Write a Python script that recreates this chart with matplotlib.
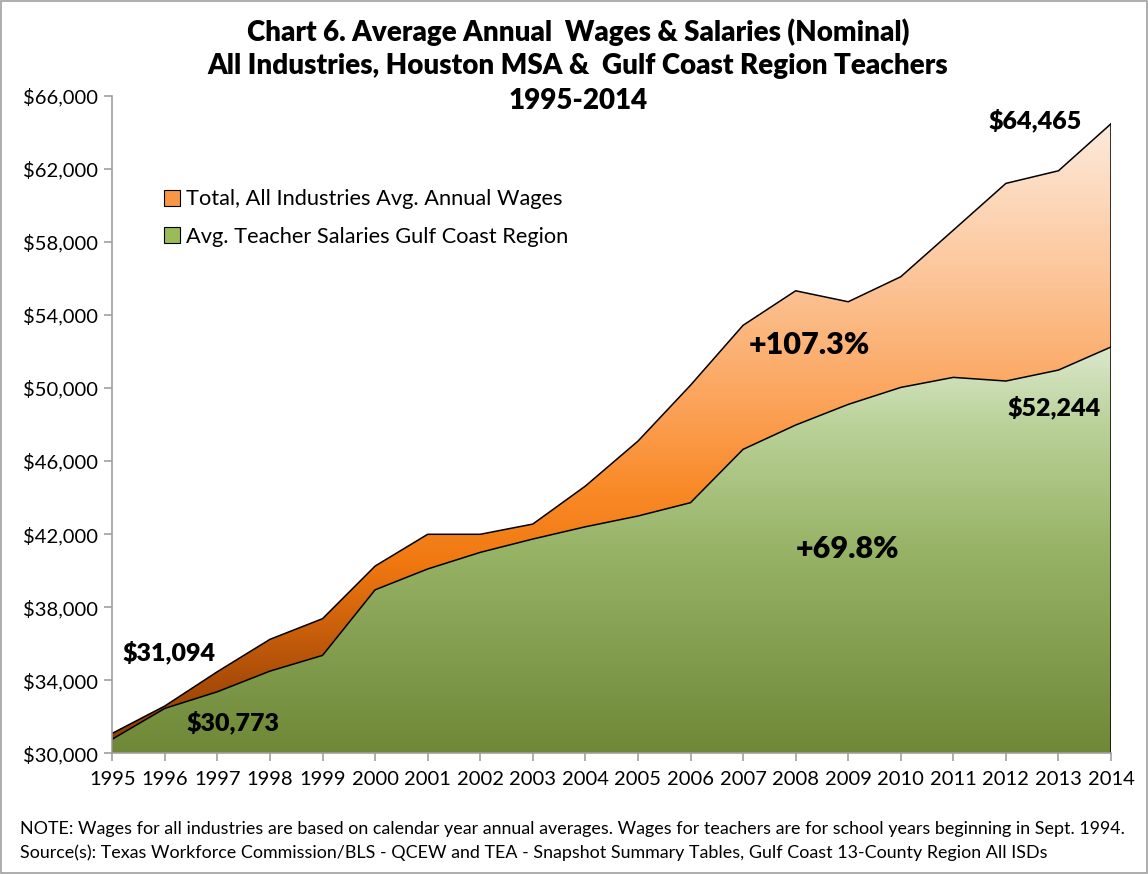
import numpy as np
import matplotlib
matplotlib.use('Agg')
import matplotlib.pyplot as plt
from matplotlib.colors import LinearSegmentedColormap
from matplotlib.patches import Polygon, Rectangle
from matplotlib.ticker import FuncFormatter

plt.rcParams['font.family'] = ['Lato', 'DejaVu Sans']

# data
years = list(range(1995, 2015))
total_wages = [31094, 32590, 34470, 36240, 37370, 40250, 41990, 41990, 42550, 44630,
               47090, 50150, 53430, 55320, 54720, 56090, 58640, 61200, 61890, 64465]
teacher_sal = [30773, 32460, 33370, 34500, 35360, 38950, 40090, 41000, 41730, 42400,
               42990, 43720, 46640, 47970, 49100, 50030, 50580, 50380, 50980, 52244]
legend_labels = ['Total, All Industries Avg. Annual Wages',
                 'Avg. Teacher Salaries Gulf Coast Region']

ymin, ymax = 30000, 66000
x = np.array(years)

fig = plt.figure(figsize=(11.48, 8.74), dpi=100)
ax = fig.add_axes([0.0978, 0.1381, 0.870, 0.7524])


def grad_area(ax, x, lo, hi, stops, top):
    # polygon between lo and hi, filled with a vertical gradient
    verts = np.vstack([np.column_stack([x, hi]), np.column_stack([x[::-1], lo[::-1]])])
    poly = Polygon(verts, closed=True, facecolor='none', edgecolor='none')
    ax.add_patch(poly)
    cmap = LinearSegmentedColormap.from_list('g', stops)
    img = ax.imshow(np.linspace(0, 1, 256).reshape(-1, 1), cmap=cmap, aspect='auto',
                    extent=[x[0], x[-1], ymin, top], origin='lower', zorder=1)
    img.set_clip_path(poly)
    return poly


orange_stops = [(0.0, '#8a3b05'), (0.12, '#ad4e08'), (0.30, '#f07810'),
                (0.42, '#f98a28'), (0.55, '#fba258'), (0.75, '#fcc497'), (1.0, '#fdeadb')]
green_stops = [(0.0, '#6e8837'), (0.5, '#97b366'), (0.8, '#b9d197'), (1.0, '#dbe8cd')]

t = np.array(total_wages, dtype=float)
s = np.array(teacher_sal, dtype=float)
base = np.full_like(s, ymin)

grad_area(ax, x, base, t, orange_stops, max(total_wages))
grad_area(ax, x, base, s, green_stops, max(teacher_sal))

# outlines
ax.plot(x, t, color='black', lw=1.1, zorder=3)
ax.plot(x, s, color='black', lw=1.1, zorder=3)
ax.plot([x[-1], x[-1]], [ymin, t[-1]], color='black', lw=1.1, zorder=3)
ax.plot([x[0], x[0]], [ymin, t[0]], color='black', lw=1.1, zorder=3)

ax.set_xlim(x[0], x[-1])
ax.set_ylim(ymin, ymax)
ax.set_yticks(np.arange(ymin, ymax + 1, 4000))
ax.yaxis.set_major_formatter(FuncFormatter(lambda v, p: '${:,.0f}'.format(v)))
ax.set_xticks(years)
for side in ['top', 'right']:
    ax.spines[side].set_visible(False)
for side in ['left', 'bottom']:
    ax.spines[side].set_color('#a0a0a0')
    ax.spines[side].set_linewidth(1.2)
    ax.spines[side].set_zorder(4)
ax.tick_params(axis='both', colors='#a0a0a0', length=6, width=1.2, labelcolor='black', labelsize=14.5)
ax.tick_params(axis='y', pad=4)
ax.tick_params(axis='x', pad=7)

# legend
h1 = Rectangle((0, 0), 1, 1, facecolor='#f79646', edgecolor='black', lw=0.8)
h2 = Rectangle((0, 0), 1, 1, facecolor='#9bbb59', edgecolor='black', lw=0.8)
ax.legend([h1, h2], legend_labels, loc='upper left', bbox_to_anchor=(0.043, 0.871),
          frameon=False, fontsize=15.7, handlelength=0.75, handleheight=0.75,
          handletextpad=0.25, labelspacing=0.8, borderaxespad=0)

# annotations
lab = dict(fontsize=18, fontweight='heavy', ha='center', va='center', zorder=5)
ax.text(1996.08, 35540, '${:,}'.format(total_wages[0]), **lab)
ax.text(1997.3, 31710, '${:,}'.format(teacher_sal[0]), **lab)
ax.text(2012.55, 64660, '${:,}'.format(total_wages[-1]), **lab)
ax.text(2012.92, 48950, '${:,}'.format(teacher_sal[-1]), **lab)
pct_total = (total_wages[-1] / total_wages[0] - 1) * 100
pct_teach = (teacher_sal[-1] / teacher_sal[0] - 1) * 100
ax.text(2008.27, 52350, '+{:.1f}%'.format(pct_total), fontsize=22, fontweight='heavy',
        ha='center', va='center', zorder=5)
ax.text(2008.99, 41180, '+{:.1f}%'.format(pct_teach), fontsize=22, fontweight='heavy',
        ha='center', va='center', zorder=5)

# title
ttl = dict(ha='center', va='center', fontsize=20, fontweight='heavy')
fig.text(0.5035, 0.963, 'Chart 6. Average Annual  Wages & Salaries (Nominal)', **ttl)
fig.text(0.5035, 0.924, 'All Industries, Houston MSA &  Gulf Coast Region Teachers', **ttl)
fig.text(0.5035, 0.885, '1995-2014', **ttl)

# notes
fig.text(0.017, 0.0515, 'NOTE: Wages for all industries are based on calendar year annual averages. '
         'Wages for teachers are for school years beginning in Sept. 1994.',
         ha='left', va='center', fontsize=12.9)
fig.text(0.017, 0.024, 'Source(s): Texas Workforce Commission/BLS - QCEW and TEA - Snapshot Summary '
         'Tables, Gulf Coast 13-County Region All ISDs', ha='left', va='center', fontsize=12.9)

# frame around the chart
fig.patches.append(Rectangle((0.001, 0.001), 0.998, 0.998, transform=fig.transFigure,
                             fill=False, edgecolor='#a0a0a0', lw=1.2))

fig.savefig('out.png', dpi=100)
